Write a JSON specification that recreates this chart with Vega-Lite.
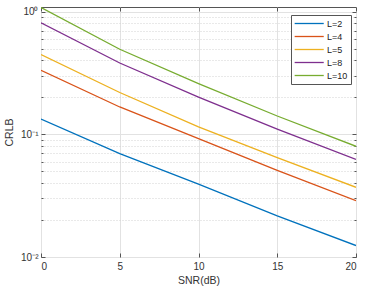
{
  "$schema": "https://vega.github.io/schema/vega-lite/v6.json",
  "width": 315,
  "height": 250,
  "autosize": {"type": "none"},
  "padding": {"left": 41, "top": 7, "right": 10, "bottom": 35},
  "background": "white",
  "config": {
    "font": "Liberation Sans",
    "view": {"stroke": "#555", "strokeWidth": 1},
    "axis": {"domainColor": "#555", "tickColor": "#555", "labelColor": "#333", "titleColor": "#333", "labelFontSize": 10, "titleFontSize": 10.5, "titleFontWeight": "normal"}
  },
  "data": {"values": [
    {"L": "L=2", "snr": 0, "crlb": 0.133},
    {"L": "L=2", "snr": 5, "crlb": 0.0697},
    {"L": "L=2", "snr": 10, "crlb": 0.0393},
    {"L": "L=2", "snr": 15, "crlb": 0.0216},
    {"L": "L=2", "snr": 20, "crlb": 0.0124},
    {"L": "L=4", "snr": 0, "crlb": 0.332},
    {"L": "L=4", "snr": 5, "crlb": 0.167},
    {"L": "L=4", "snr": 10, "crlb": 0.0922},
    {"L": "L=4", "snr": 15, "crlb": 0.0509},
    {"L": "L=4", "snr": 20, "crlb": 0.0288},
    {"L": "L=5", "snr": 0, "crlb": 0.446},
    {"L": "L=5", "snr": 5, "crlb": 0.219},
    {"L": "L=5", "snr": 10, "crlb": 0.115},
    {"L": "L=5", "snr": 15, "crlb": 0.0646},
    {"L": "L=5", "snr": 20, "crlb": 0.037},
    {"L": "L=8", "snr": 0, "crlb": 0.81},
    {"L": "L=8", "snr": 5, "crlb": 0.381},
    {"L": "L=8", "snr": 10, "crlb": 0.201},
    {"L": "L=8", "snr": 15, "crlb": 0.11},
    {"L": "L=8", "snr": 20, "crlb": 0.0625},
    {"L": "L=10", "snr": 0, "crlb": 1.08},
    {"L": "L=10", "snr": 5, "crlb": 0.493},
    {"L": "L=10", "snr": 10, "crlb": 0.259},
    {"L": "L=10", "snr": 15, "crlb": 0.141},
    {"L": "L=10", "snr": 20, "crlb": 0.0798}
  ]},
  "resolve": {"axis": {"x": "independent", "y": "independent"}},
  "layer": [
    {
      "mark": {"type": "line", "strokeWidth": 1.3, "clip": true},
      "encoding": {
        "x": {"field": "snr", "type": "quantitative", "title": "SNR(dB)",
          "scale": {"domain": [0, 20], "nice": false},
          "axis": {"values": [0, 5, 10, 15, 20], "tickSize": -4, "labelPadding": 8, "titlePadding": 4, "gridColor": "#e2e2e2", "domain": false}},
        "y": {"field": "crlb", "type": "quantitative", "title": "CRLB",
          "scale": {"type": "log", "domain": [0.01, 1.09], "nice": false},
          "axis": {"values": [0.01, 0.02, 0.03, 0.04, 0.05, 0.06, 0.07, 0.08, 0.09, 0.1, 0.2, 0.3, 0.4, 0.5, 0.6, 0.7, 0.8, 0.9, 1],
            "labelExpr": "datum.value == 1 ? '10⁰' : datum.value == 0.1 ? '10⁻¹' : datum.value == 0.01 ? '10⁻²' : ''",
            "tickSize": {"condition": {"test": "datum.value == 1 || datum.value == 0.1 || datum.value == 0.01", "value": -4}, "value": -2},
            "gridDash": {"condition": {"test": "datum.value == 1 || datum.value == 0.1 || datum.value == 0.01", "value": []}, "value": [1, 2]},
            "gridColor": {"condition": {"test": "datum.value == 1 || datum.value == 0.1 || datum.value == 0.01", "value": "#e2e2e2"}, "value": "#d2d2d2"},
            "labelPadding": 7, "titlePadding": 6, "domain": false}},
        "color": {"field": "L", "type": "nominal", "title": null,
          "scale": {"domain": ["L=2", "L=4", "L=5", "L=8", "L=10"], "range": ["#0072BD", "#D95319", "#EDB120", "#7E2F8E", "#77AC30"]},
          "legend": {"orient": "none", "legendX": 250, "legendY": 8, "symbolType": "M-1,0H5", "symbolSize": 94, "symbolStrokeWidth": 1.3,
            "labelFontSize": 9, "labelColor": "#222", "fillColor": "white", "strokeColor": "#555", "padding": 3, "rowPadding": 2, "labelOffset": 22}}
      }
    },
    {
      "mark": {"type": "line", "opacity": 0},
      "encoding": {
        "x": {"field": "snr", "type": "quantitative", "axis": {"orient": "top", "values": [0, 5, 10, 15, 20], "labels": false, "title": null, "grid": false, "tickSize": -4, "domain": false}},
        "y": {"field": "crlb", "type": "quantitative", "scale": {"type": "log"},
          "axis": {"orient": "right", "values": [0.01, 0.02, 0.03, 0.04, 0.05, 0.06, 0.07, 0.08, 0.09, 0.1, 0.2, 0.3, 0.4, 0.5, 0.6, 0.7, 0.8, 0.9, 1], "labels": false, "title": null, "grid": false, "domain": false,
            "tickSize": {"condition": {"test": "datum.value == 1 || datum.value == 0.1 || datum.value == 0.01", "value": -4}, "value": -2}}}
      }
    }
  ]
}
